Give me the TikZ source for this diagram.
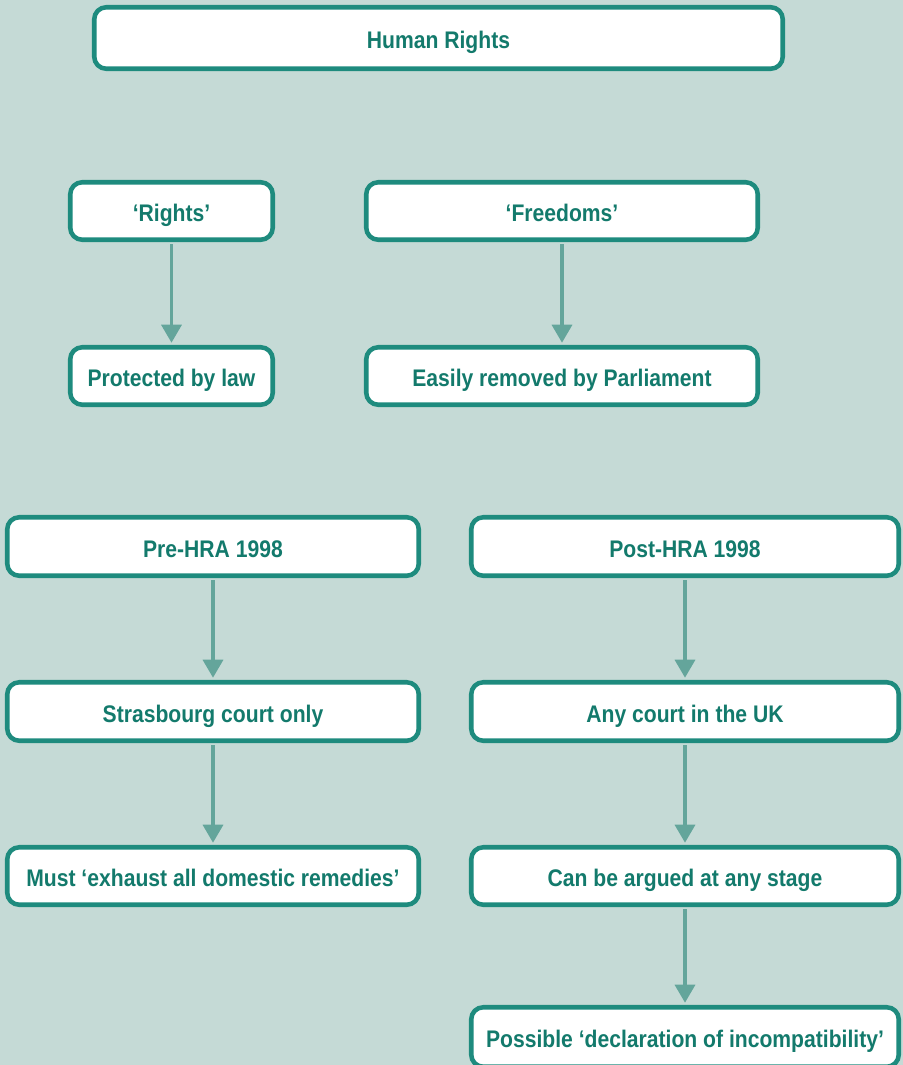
\documentclass[tikz,border=0pt]{standalone}
\usepackage{fontspec}
\setmainfont{Liberation Sans}[FakeStretch=0.88]
\usetikzlibrary{arrows.meta}
\definecolor{bgc}{HTML}{C5DAD6}
\definecolor{edgec}{HTML}{1E8B7E}
\definecolor{textc}{HTML}{137A6C}
\definecolor{arrowc}{HTML}{64A59B}
\tikzset{
  hrbox/.style={draw=edgec, line width=3.4pt, fill=white, rounded corners=9pt,
    text=textc, font=\fontsize{18}{21}\selectfont\bfseries, inner sep=0pt, align=center,
    text height=15.9pt, text depth=0pt},
  conn/.style={draw=arrowc, line width=2.5pt, shorten <=1.7pt, shorten >=1.7pt,
    -{Triangle[width=15pt,length=13.5pt]}}
}
% box given by its outer pixel edges: name, x1, y1, x2, y2, text
\newcommand\hrbox[6]{%
  \node[hrbox, minimum width={(#4-#2-4.5)*0.75pt}, minimum height={(#5-#3-4.5)*0.75pt}]
    (#1) at ({(#2+#4)/2},{(#3+#5)/2}) {#6};}
\begin{document}
\begin{tikzpicture}[x=0.75pt,y=-0.75pt]
\fill[bgc] (0,0) rectangle (903,1065);
\useasboundingbox (0,0) rectangle (903,1065);

\hrbox{hr}{92}{5}{785}{71}{Human Rights}

\hrbox{rights}{68}{180}{275}{242}{‘Rights’}
\hrbox{freedoms}{364}{180}{760}{242}{‘Freedoms’}
\hrbox{protected}{68}{345}{275}{407}{Protected by law}
\hrbox{removed}{364}{345}{760}{407}{Easily removed by Parliament}

\hrbox{pre}{5}{515}{421}{578}{Pre-HRA 1998}
\hrbox{post}{469}{515}{901}{578}{Post-HRA 1998}
\hrbox{stras}{5}{680}{421}{743}{Strasbourg court only}
\hrbox{anyct}{469}{680}{901}{743}{Any court in the UK}
\hrbox{exhaust}{5}{845}{421}{907}{Must ‘exhaust all domestic remedies’}
\hrbox{argued}{469}{845}{901}{907}{Can be argued at any stage}
\hrbox{declar}{469}{1005}{901}{1069}{Possible ‘declaration of incompatibility’}

\draw[conn] (rights) -- (protected);
\draw[conn] (freedoms) -- (removed);
\draw[conn] (pre) -- (stras);
\draw[conn] (stras) -- (exhaust);
\draw[conn] (post) -- (anyct);
\draw[conn] (anyct) -- (argued);
\draw[conn] (argued) -- (declar);
\end{tikzpicture}
\end{document}
